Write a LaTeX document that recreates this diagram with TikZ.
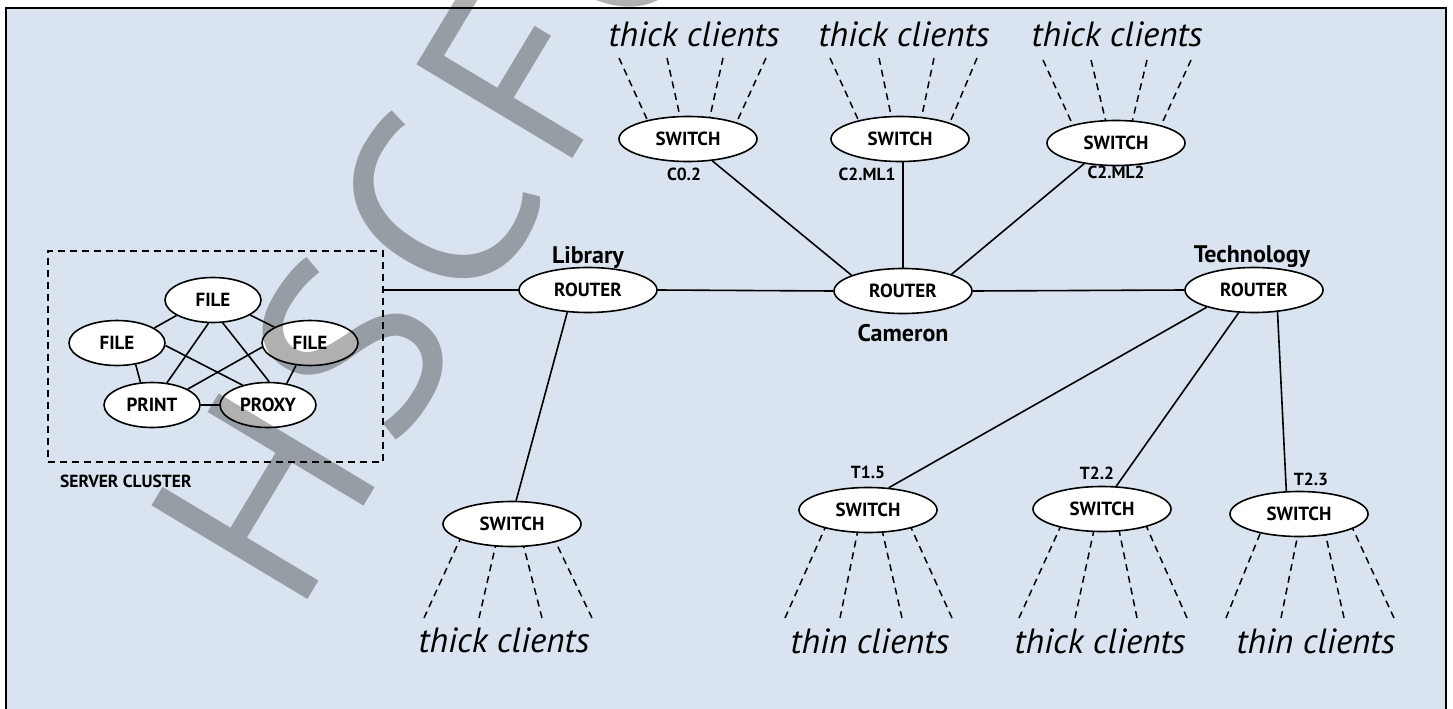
\documentclass[tikz,border=0pt]{standalone}
\usepackage{fontspec}
\setmainfont{PT Sans}
\usetikzlibrary{shapes.geometric,calc}
\pgfdeclarelayer{bg}
\pgfdeclarelayer{mid}
\pgfsetlayers{bg,mid,main}
\definecolor{panel}{RGB}{218,228,240}
\definecolor{wmgray}{RGB}{176,176,176}
\tikzset{
  dev/.style={ellipse, draw, fill=white, line width=1.6pt, inner sep=0pt,
    minimum width=138pt, minimum height=45pt,
    font=\bfseries\fontsize{19}{19}\selectfont},
  srv/.style={dev, minimum width=96pt, minimum height=45pt},
  link/.style={line width=1.6pt},
  cl/.style={line width=1.5pt, dash pattern=on 7pt off 5pt},
  lbl/.style={font=\bfseries\fontsize{17.5}{17.5}\selectfont, inner sep=0pt, anchor=base},
  site/.style={font=\bfseries\fontsize{24}{24}\selectfont, inner sep=0pt, anchor=base},
  clients/.style={font=\itshape\fontsize{35}{35}\selectfont, inner sep=0pt, anchor=base},
  boxline/.style={line width=1.4pt, dash pattern=on 7pt off 5pt},
}
\begin{document}
\begin{tikzpicture}[x=1pt,y=-1pt]
\useasboundingbox (0,0) rectangle (1453,709);
\clip (0,0) rectangle (1453,709);
\begin{pgfonlayer}{bg}
  \fill[white] (0,0) rectangle (1453,709);
  \draw[line width=2.5pt, fill=panel] (6,8) rectangle (1446,730);
\end{pgfonlayer}

% routers
\node[dev] (lib) at (588,290) {ROUTER};
\node[dev] (cam) at (903,291) {ROUTER};
\node[dev] (tech) at (1254,290) {ROUTER};
% switches
\node[dev] (s02) at (688,139) {SWITCH};
\node[dev] (sml1) at (900,139) {SWITCH};
\node[dev] (sml2) at (1116,143) {SWITCH};
\node[dev] (slib) at (512,524) {SWITCH};
\node[dev] (s15) at (868,510) {SWITCH};
\node[dev] (s22) at (1102,509) {SWITCH};
\node[dev] (s23) at (1299,514) {SWITCH};
% server cluster
\node[srv] (ft) at (213,300) {FILE};
\node[srv] (fl) at (117,343) {FILE};
\node[srv] (fr) at (310,343) {FILE};
\node[srv] (pr) at (152,405) {PRINT};
\node[srv] (px) at (268,405) {PROXY};
\node[boxline, draw, inner sep=0pt, minimum width=335pt, minimum height=211pt] (box) at (215.5,356.5) {};
\node[lbl, anchor=base west, font=\bfseries\fontsize{17.5}{17.5}\selectfont] (sc) at (60,487) {SERVER CLUSTER};

% labels
\node[site] (liblbl) at (588,263) {Library};
\node[site] (camlbl) at (903,341) {Cameron};
\node[site] (techlbl) at (1252,262) {Technology};
\node[lbl] (l02) at (684,180) {C0.2};
\node[lbl] (lml1) at (867,180) {C2.ML1};
\node[lbl] (lml2) at (1116,178) {C2.ML2};
\node[lbl] (l15) at (868,478) {T1.5};
\node[lbl] (l22) at (1097,479) {T2.2};
\node[lbl] (l23) at (1311,485) {T2.3};

% client texts
\node[clients] (c1) at (694,47) {thick clients};
\node[clients] (c2) at (904,47) {thick clients};
\node[clients] (c3) at (1117,47) {thick clients};
\node[clients] (c4) at (504,652) {thick clients};
\node[clients] (c5) at (870,653) {thin clients};
\node[clients] (c6) at (1100,653) {thick clients};
\node[clients] (c7) at (1316,653) {thin clients};

% backbone links
\draw[link] (box.east |- lib.west) -- (lib.west);
\draw[link] (lib.east) -- (cam.west);
\draw[link] (cam.east) -- (tech.west);
\draw[link] (s02.-42.6) -- (cam.163);
\draw[link] (cam.north) -- (cam.north |- sml1.south);
\draw[link] (sml2.-147) -- (cam.19);
\draw[link] (lib.-133.6) -- (slib.80.5);
\draw[link] (tech.-160.9) -- (s15.47.6);
\draw[link] (tech.-124) -- (s22.58);
\draw[link] (tech.-43.8) -- (s23.119.5);

% cluster links
\draw[link] (ft.-157) -- (fl.22);
\draw[link] (ft.-22.3) -- (fr.156);
\draw[link] (ft.-101.8) -- (pr.56.9);
\draw[link] (ft.-67.4) -- (px.87.4);
\draw[link] (fl.-49.2) -- (pr.117.6);
\draw[link] (fl.-3.5) -- (px.142);
\draw[link] (fr.-175.2) -- (pr.24.6);
\draw[link] (fr.-122.5) -- (px.49.2);
\draw[link] (pr.east) -- (px.west);

% client dashed lines
\begin{pgfonlayer}{mid}
\foreach \f/\i in {-69/-32,-21/-3,35/17,78/41}
  \draw[cl] ($(s02)+(\f,-81)$) -- ($(s02)+(\i,0)$);
\foreach \f/\i in {-70/-33,-21/-4,34/17,77/43}
  \draw[cl] ($(sml1)+(\f,-81)$) -- ($(sml1)+(\i,0)$);
\foreach \f/\i in {-73/-35,-25/-5,31/11,75/37}
  \draw[cl] ($(sml2)+(\f,-83)$) -- ($(sml2)+(\i,0)$);
\foreach \f/\i in {-88/-45,-33/-11.5,30/6,80/35}
  \draw[cl] ($(slib)+(\f,94)$) -- ($(slib)+(\i,0)$);
\foreach \f/\i in {-83/-35,-28/-6,34/9.5,84/35}
  \draw[cl] ($(s15)+(\f,108)$) -- ($(s15)+(\i,0)$);
\foreach \f/\i in {-83/-33.5,-27/-3.5,35/12.7,85/36.7}
  \draw[cl] ($(s22)+(\f,109)$) -- ($(s22)+(\i,0)$);
\foreach \f/\i in {-73/-31,-18/3,45/22,95/47}
  \draw[cl] ($(s23)+(\f,104)$) -- ($(s23)+(\i,0)$);
\end{pgfonlayer}

% watermark
\begin{scope}[blend mode=multiply]
\node[text=wmgray, rotate=59, anchor=base west, inner sep=0pt,
  font=\fontsize{260}{260}\selectfont] (wm) at (296,619)
  {H\kern18pt S\kern18pt C\kern18pt F\kern18pt O};
\end{scope}
\end{tikzpicture}
\end{document}
